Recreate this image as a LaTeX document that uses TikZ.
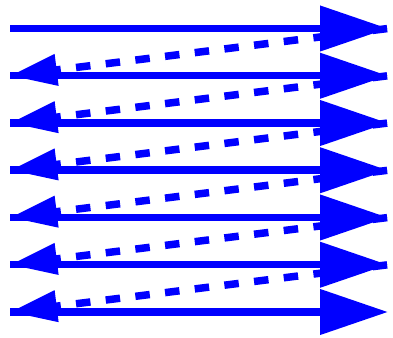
\documentclass[tikz,border=0pt]{standalone}
\usepackage{tikz}
\usetikzlibrary{arrows.meta,calc}

\begin{document}
\begin{tikzpicture}[x=1pt,y=1pt]
			\tikzstyle{sweep}=[draw=blue,line width=7.5pt,-{Triangle[length=68pt,width=44pt]}]
			\tikzstyle{retrace}=[draw=blue,line width=7.5pt,dash pattern=on 14.5pt off 15.4pt,dash phase=29pt,-{Triangle[length=47pt,width=30pt]}]

			\useasboundingbox (0,0) rectangle (393,337);

			\coordinate (L0) at (10,308.5);
			\coordinate (R0) at (388,308.5);
			\coordinate (L1) at ($(L0) + (0,-47.25)$);
			\coordinate (R1) at ($(R0) + (0,-47.25)$);
			\coordinate (L2) at ($(L0) + (0,-94.5)$);
			\coordinate (R2) at ($(R0) + (0,-94.5)$);
			\coordinate (L3) at ($(L0) + (0,-141.75)$);
			\coordinate (R3) at ($(R0) + (0,-141.75)$);
			\coordinate (L4) at ($(L0) + (0,-189)$);
			\coordinate (R4) at ($(R0) + (0,-189)$);
			\coordinate (L5) at ($(L0) + (0,-236.25)$);
			\coordinate (R5) at ($(R0) + (0,-236.25)$);
			\coordinate (L6) at ($(L0) + (0,-283.5)$);
			\coordinate (R6) at ($(R0) + (0,-283.5)$);

			% flyback lines
			\draw [retrace] (R0) -- (L1);
			\draw [retrace] (R1) -- (L2);
			\draw [retrace] (R2) -- (L3);
			\draw [retrace] (R3) -- (L4);
			\draw [retrace] (R4) -- (L5);
			\draw [retrace] (R5) -- (L6);

			% scan lines
			\draw [sweep] (L0) -- (R0);
			\draw [sweep] (L1) -- (R1);
			\draw [sweep] (L2) -- (R2);
			\draw [sweep] (L3) -- (R3);
			\draw [sweep] (L4) -- (R4);
			\draw [sweep] (L5) -- (R5);
			\draw [sweep] (L6) -- (R6);
		\end{tikzpicture}
\end{document}
